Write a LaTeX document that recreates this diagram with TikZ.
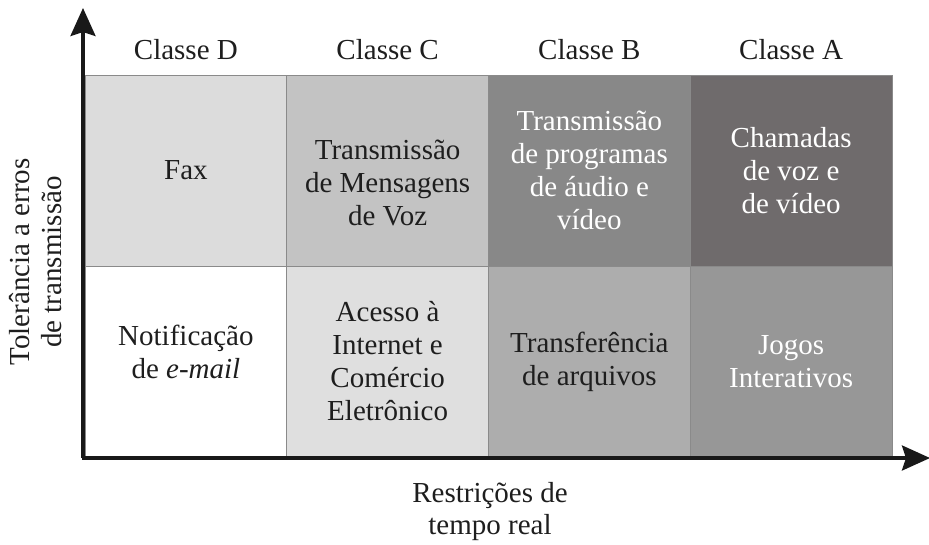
\documentclass[tikz,border=0pt]{standalone}
\usepackage{fontspec}
\setmainfont{Liberation Serif}
\usetikzlibrary{arrows.meta}
\definecolor{cDt}{HTML}{DCDCDC}
\definecolor{cCt}{HTML}{C3C3C3}
\definecolor{cBt}{HTML}{888888}
\definecolor{cAt}{HTML}{6F6B6C}
\definecolor{cDb}{HTML}{FFFFFF}
\definecolor{cCb}{HTML}{DFDFDF}
\definecolor{cBb}{HTML}{ADADAD}
\definecolor{cAb}{HTML}{979797}
\definecolor{gridgray}{HTML}{8A8A8A}
\definecolor{txt}{HTML}{1E1E1E}
\tikzset{
  cell/.style={rectangle, draw=gridgray, line width=0.8pt, minimum width=201.75pt, minimum height=191pt, inner sep=0pt, align=center, font=\fontsize{29}{33}\selectfont, text=txt},
  lightcell/.style={cell, text=white},
  celltext/.style={align=center, inner sep=0pt, font=\fontsize{29}{33}\selectfont, text=txt},
  header/.style={font=\fontsize{29}{33}\selectfont, text=txt},
  axislabel/.style={align=center, font=\fontsize{29}{32}\selectfont, text=txt},
  axis/.style={line width=3.2pt, -{Stealth[length=28pt, width=25pt, inset=4pt]}, color=black!90}
}
\begin{document}
\begin{tikzpicture}[x=1pt,y=-1pt]
\useasboundingbox (0,0) rectangle (929,544);
% top row
\node[cell, fill=cDt] (dt) at (185.875,170.5) {Fax};
\node[cell, fill=cCt] (ct) at (387.625,170.5) {};
\node[celltext] (ctT) at ([yshift=-12pt]ct.center) {Transmissão\\de Mensagens\\de Voz};
\node[lightcell, fill=cBt] (bt) at (589.375,170.5) {Transmissão\\de programas\\de áudio e\\vídeo};
\node[lightcell, fill=cAt] (at) at (791.125,170.5) {Chamadas\\de voz e\\de vídeo};
% bottom row
\node[cell, fill=cDb] (db) at (185.875,361.5) {};
\node[celltext] (dbT) at ([yshift=10pt]db.center) {Notificação\\de \textit{e-mail}};
\node[cell, fill=cCb] (cb) at (387.625,361.5) {Acesso à\\Internet e\\Comércio\\Eletrônico};
\node[cell, fill=cBb] (bb) at (589.375,361.5) {Transferência\\de arquivos};
\node[lightcell, fill=cAb] (ab) at (791.125,361.5) {Jogos\\Interativos};
% headers
\node[header] (hD) at (185.875,50) {Classe D};
\node[header] (hC) at (387.625,50) {Classe C};
\node[header] (hB) at (589.375,50) {Classe B};
\node[header] (hA) at (791.125,50) {Classe A};
% axes
\coordinate (O) at (83,458);
\coordinate (Ox) at (81.5,458);
\coordinate (ytip) at (83,8);
\coordinate (xtip) at (930,458);
\draw[axis] (O) -- (ytip);
\draw[axis] (Ox) -- (xtip);
% axis labels
\node[axislabel, rotate=90] (ylab) at (36,262) {Tolerância a erros\\de transmissão};
\node[axislabel] (xlab) at (490,512) {Restrições de\\tempo real};
\end{tikzpicture}
\end{document}
